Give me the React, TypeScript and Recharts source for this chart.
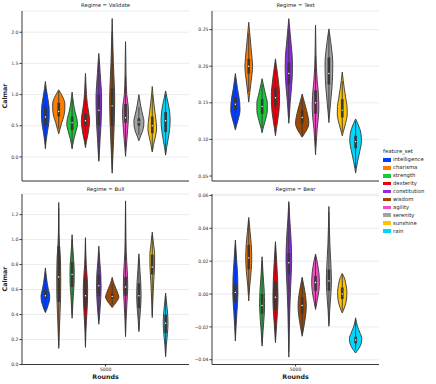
import { ComposedChart, Area, Line, XAxis, YAxis, CartesianGrid } from 'recharts';

const FEATURES = [
    'intelligence', 'charisma', 'strength', 'dexterity', 'constitution',
    'wisdom', 'agility', 'serenity', 'sunshine', 'rain',
];

const COLORS = [
    '#023eff', '#ff7c00', '#1ac938', '#e8000b', '#8b2be2',
    '#9f4800', '#f14cc1', '#a3a3a3', '#ffc400', '#00d7ff',
];

const ROUND_LABEL = '5000';

// violin outlines, one list per feature: [value, relative half-width 0..1]
const VALIDATE_SHAPES = [
    [[0.13, 0], [0.25, 0.1], [0.4, 0.3], [0.55, 0.52], [0.7, 0.58], [0.8, 0.55], [0.95, 0.35], [1.1, 0.12], [1.21, 0]],
    [[0.37, 0], [0.45, 0.2], [0.55, 0.45], [0.65, 0.75], [0.75, 0.9], [0.85, 0.92], [0.95, 0.65], [1.02, 0.3], [1.076, 0]],
    [[0.13, 0], [0.2, 0.1], [0.3, 0.3], [0.42, 0.6], [0.52, 0.8], [0.62, 0.7], [0.72, 0.45], [0.85, 0.22], [0.95, 0.1], [1.04, 0]],
    [[0.15, 0], [0.25, 0.15], [0.35, 0.35], [0.45, 0.5], [0.58, 0.62], [0.7, 0.5], [0.85, 0.28], [1.0, 0.15], [1.2, 0.06], [1.34, 0]],
    [[-0.07, 0], [0.1, 0.1], [0.3, 0.2], [0.5, 0.32], [0.75, 0.4], [0.95, 0.42], [1.15, 0.33], [1.35, 0.2], [1.55, 0.08], [1.66, 0]],
    [[-0.26, 0], [0, 0.1], [0.3, 0.22], [0.6, 0.33], [0.9, 0.38], [1.2, 0.3], [1.5, 0.18], [1.8, 0.1], [2.05, 0.04], [2.22, 0]],
    [[0.01, 0], [0.15, 0.1], [0.3, 0.22], [0.5, 0.36], [0.68, 0.45], [0.82, 0.4], [1.0, 0.18], [1.3, 0.08], [1.6, 0.04], [1.85, 0]],
    [[0.26, 0], [0.32, 0.2], [0.4, 0.5], [0.5, 0.72], [0.58, 0.75], [0.66, 0.6], [0.75, 0.4], [0.85, 0.22], [0.95, 0.08], [1.0, 0]],
    [[0.08, 0], [0.2, 0.2], [0.32, 0.45], [0.45, 0.65], [0.55, 0.6], [0.7, 0.42], [0.85, 0.25], [1.0, 0.1], [1.13, 0]],
    [[0.03, 0], [0.15, 0.15], [0.3, 0.4], [0.45, 0.6], [0.58, 0.68], [0.72, 0.6], [0.85, 0.4], [0.95, 0.2], [1.06, 0]],
];
// [whisker low, q1, median, q3, whisker high]
const VALIDATE_BOX = [
    [0.2, 0.5, 0.64, 0.8, 1.1], [0.45, 0.65, 0.73, 0.87, 1.05], [0.15, 0.43, 0.55, 0.65, 0.95],
    [0.2, 0.5, 0.58, 0.7, 1.0], [-0.05, 0.5, 0.75, 1.0, 1.55], [-0.2, 0.5, 0.82, 1.1, 2.0],
    [0.1, 0.55, 0.63, 0.85, 1.3], [0.35, 0.5, 0.56, 0.62, 0.8], [0.1, 0.38, 0.5, 0.65, 1.0],
    [0.05, 0.4, 0.58, 0.72, 1.0],
];

const TEST_SHAPES = [
    [[0.113, 0], [0.12, 0.2], [0.13, 0.5], [0.14, 0.7], [0.15, 0.65], [0.16, 0.5], [0.17, 0.3], [0.18, 0.15], [0.19, 0]],
    [[0.151, 0], [0.16, 0.1], [0.175, 0.3], [0.19, 0.5], [0.2, 0.58], [0.21, 0.5], [0.225, 0.35], [0.24, 0.2], [0.25, 0.1], [0.26, 0]],
    [[0.109, 0], [0.115, 0.15], [0.125, 0.45], [0.14, 0.78], [0.15, 0.78], [0.16, 0.55], [0.17, 0.3], [0.183, 0]],
    [[0.105, 0], [0.115, 0.15], [0.13, 0.4], [0.145, 0.58], [0.16, 0.62], [0.175, 0.5], [0.19, 0.3], [0.2, 0.15], [0.21, 0]],
    [[0.122, 0], [0.135, 0.1], [0.15, 0.2], [0.165, 0.35], [0.18, 0.48], [0.2, 0.55], [0.215, 0.5], [0.23, 0.35], [0.245, 0.2], [0.265, 0]],
    [[0.103, 0], [0.108, 0.35], [0.115, 0.8], [0.122, 1.0], [0.13, 0.9], [0.14, 0.65], [0.15, 0.35], [0.162, 0]],
    [[0.079, 0], [0.095, 0.1], [0.115, 0.25], [0.13, 0.42], [0.145, 0.5], [0.16, 0.45], [0.18, 0.25], [0.2, 0.12], [0.23, 0.05], [0.256, 0]],
    [[0.123, 0], [0.135, 0.1], [0.15, 0.25], [0.17, 0.45], [0.19, 0.56], [0.205, 0.58], [0.22, 0.45], [0.235, 0.25], [0.251, 0]],
    [[0.105, 0], [0.112, 0.2], [0.122, 0.5], [0.135, 0.75], [0.145, 0.72], [0.155, 0.55], [0.17, 0.3], [0.18, 0.15], [0.192, 0]],
    [[0.054, 0], [0.06, 0.1], [0.07, 0.3], [0.085, 0.65], [0.098, 0.88], [0.108, 0.8], [0.115, 0.6], [0.122, 0.3], [0.128, 0]],
];
const TEST_BOX = [
    [0.12, 0.14, 0.148, 0.158, 0.18], [0.165, 0.19, 0.2, 0.21, 0.245], [0.115, 0.135, 0.145, 0.155, 0.175],
    [0.12, 0.145, 0.157, 0.17, 0.2], [0.13, 0.175, 0.19, 0.205, 0.25], [0.105, 0.122, 0.13, 0.14, 0.155],
    [0.09, 0.135, 0.15, 0.167, 0.215], [0.13, 0.175, 0.19, 0.212, 0.245], [0.11, 0.13, 0.14, 0.155, 0.18],
    [0.06, 0.088, 0.097, 0.105, 0.125],
];

const BULL_SHAPES = [
    [[0.416, 0], [0.44, 0.2], [0.48, 0.45], [0.52, 0.63], [0.55, 0.65], [0.6, 0.45], [0.65, 0.28], [0.7, 0.15], [0.773, 0]],
    [[0.129, 0], [0.25, 0.08], [0.4, 0.18], [0.55, 0.28], [0.7, 0.3], [0.85, 0.25], [0.95, 0.12], [1.05, 0.05], [1.2, 0.02], [1.297, 0]],
    [[0.37, 0], [0.45, 0.08], [0.55, 0.18], [0.65, 0.3], [0.75, 0.32], [0.85, 0.22], [0.95, 0.08], [1.039, 0]],
    [[0.137, 0], [0.25, 0.06], [0.35, 0.15], [0.5, 0.3], [0.6, 0.33], [0.7, 0.25], [0.8, 0.12], [0.9, 0.05], [1.015, 0]],
    [[0.322, 0], [0.4, 0.12], [0.5, 0.26], [0.62, 0.34], [0.72, 0.3], [0.82, 0.15], [0.948, 0]],
    [[0.456, 0], [0.48, 0.35], [0.51, 0.75], [0.54, 1.0], [0.57, 0.85], [0.61, 0.55], [0.65, 0.25], [0.698, 0]],
    [[0.223, 0], [0.35, 0.08], [0.5, 0.22], [0.62, 0.33], [0.75, 0.26], [0.9, 0.1], [1.1, 0.04], [1.31, 0]],
    [[0.263, 0], [0.35, 0.1], [0.45, 0.25], [0.55, 0.33], [0.65, 0.28], [0.75, 0.16], [0.886, 0]],
    [[0.376, 0], [0.5, 0.08], [0.65, 0.2], [0.78, 0.34], [0.88, 0.36], [0.95, 0.22], [1.06, 0]],
    [[0.062, 0], [0.15, 0.1], [0.25, 0.28], [0.33, 0.36], [0.42, 0.28], [0.5, 0.13], [0.572, 0]],
];
const BULL_BOX = [
    [0.45, 0.53, 0.55, 0.6, 0.7], [0.15, 0.5, 0.7, 0.95, 1.25], [0.4, 0.62, 0.72, 0.82, 1.0],
    [0.15, 0.45, 0.55, 0.7, 1.0], [0.35, 0.55, 0.63, 0.72, 0.9], [0.48, 0.53, 0.545, 0.57, 0.65],
    [0.25, 0.55, 0.62, 0.7, 1.3], [0.28, 0.45, 0.55, 0.65, 0.85], [0.4, 0.72, 0.78, 0.88, 1.03],
    [0.08, 0.25, 0.33, 0.4, 0.55],
];

const BEAR_SHAPES = [
    [[-0.0286, 0], [-0.02, 0.1], [-0.01, 0.25], [0, 0.38], [0.01, 0.35], [0.02, 0.2], [0.0329, 0]],
    [[-0.0042, 0], [0.005, 0.15], [0.015, 0.38], [0.022, 0.45], [0.03, 0.38], [0.038, 0.2], [0.0466, 0]],
    [[-0.0317, 0], [-0.022, 0.15], [-0.012, 0.33], [-0.006, 0.38], [0.003, 0.3], [0.012, 0.15], [0.0227, 0]],
    [[-0.0296, 0], [-0.02, 0.15], [-0.01, 0.32], [-0.002, 0.38], [0.008, 0.33], [0.02, 0.18], [0.0319, 0]],
    [[-0.0384, 0], [-0.025, 0.06], [-0.01, 0.14], [0.005, 0.28], [0.02, 0.42], [0.032, 0.35], [0.045, 0.15], [0.0563, 0]],
    [[-0.0257, 0], [-0.02, 0.25], [-0.012, 0.55], [-0.007, 0.62], [-0.001, 0.5], [0.005, 0.25], [0.0101, 0]],
    [[-0.0094, 0], [-0.004, 0.25], [0.002, 0.5], [0.007, 0.58], [0.013, 0.5], [0.019, 0.28], [0.0244, 0]],
    [[-0.0196, 0], [-0.01, 0.12], [0, 0.3], [0.008, 0.38], [0.018, 0.3], [0.03, 0.15], [0.042, 0.06], [0.0533, 0]],
    [[-0.0115, 0], [-0.008, 0.35], [-0.003, 0.65], [0.001, 0.7], [0.006, 0.55], [0.01, 0.3], [0.0125, 0]],
    [[-0.0359, 0], [-0.033, 0.5], [-0.03, 0.85], [-0.027, 0.93], [-0.024, 0.7], [-0.02, 0.3], [-0.0145, 0]],
];
const BEAR_BOX = [
    [-0.025, -0.005, 0.001, 0.006, 0.03], [0.0, 0.015, 0.022, 0.03, 0.045], [-0.03, -0.012, -0.007, 0.0, 0.02],
    [-0.028, -0.01, -0.002, 0.008, 0.03], [-0.035, 0.012, 0.019, 0.025, 0.055], [-0.024, -0.012, -0.007, -0.002, 0.01],
    [-0.008, 0.002, 0.007, 0.011, 0.023], [-0.018, 0.002, 0.008, 0.015, 0.05], [-0.01, -0.003, 0.0, 0.004, 0.012],
    [-0.034, -0.03, -0.028, -0.026, -0.016],
];

const VALIDATE_TICKS = [0, 0.5, 1.0, 1.5, 2.0];
const TEST_TICKS = [0.05, 0.1, 0.15, 0.2, 0.25];
const BULL_TICKS = [0, 0.2, 0.4, 0.6, 0.8, 1.0, 1.2];
const BEAR_TICKS = [-0.04, -0.02, 0, 0.02, 0.04, 0.06];

// dodge: 10 hues share 0.8 of the single category slot
const SLOT = 0.08;
const offsetOf = (i: number) => -0.4 + SLOT / 2 + SLOT * i;

const INK = '#383838';
const FONT = '"DejaVu Sans", sans-serif';

const fmt = (digits: number) => (v: number) => {
    const s = Math.abs(v).toFixed(digits);
    return v < 0 ? `\u2212${s}` : s;
};

interface PanelProps {
    shapes: number[][][];
    box: number[][];
    domain: [number, number];
    ticks: number[];
    digits: number;
    bottom: boolean;
}

function Panel({ shapes, box, domain, ticks, digits, bottom }: PanelProps) {
    const series: React.ReactNode[] = [];
    shapes.forEach((pts, i) => {
        const c = offsetOf(i);
        const data = pts.map(([y, w]) => ({ y, x: [c - w * SLOT / 2, c + w * SLOT / 2] }));
        series.push(
            <Area
                key={`v${i}`}
                data={data}
                dataKey="x"
                type="monotone"
                fill={COLORS[i]}
                fillOpacity={1}
                stroke={INK}
                strokeWidth={0.9}
                dot={false}
                activeDot={false}
                isAnimationActive={false}
            />,
        );
    });
    box.forEach(([lo, q1, med, q3, hi], i) => {
        const c = offsetOf(i);
        series.push(
            <Line key={`w${i}`} data={[{ y: lo, x: c }, { y: hi, x: c }]} dataKey="x"
                stroke={INK} strokeWidth={0.9} dot={false} activeDot={false} isAnimationActive={false} />,
            <Line key={`b${i}`} data={[{ y: q1, x: c }, { y: q3, x: c }]} dataKey="x"
                stroke={INK} strokeWidth={2.7} dot={false} activeDot={false} isAnimationActive={false} />,
            <Line key={`m${i}`} data={[{ y: med, x: c }]} dataKey="x" stroke="none"
                dot={{ r: 0.7, fill: '#ffffff', stroke: 'none' }} activeDot={false} isAnimationActive={false} />,
        );
    });

    return (
        <ComposedChart
            width={190}
            height={bottom ? 200 : 182}
            layout="vertical"
            margin={bottom ? { top: 10, right: 1, bottom: 7.5, left: 0 } : { top: 11, right: 1, bottom: 0, left: 0 }}
        >
            <CartesianGrid vertical={false} stroke="#e6e6e6" strokeWidth={0.8} />
            <XAxis
                type="number"
                dataKey="x"
                domain={[-0.5, 0.5]}
                allowDataOverflow
                ticks={[0]}
                tickFormatter={() => ROUND_LABEL}
                tick={bottom ? { fontSize: 4.6, fill: '#333', fontFamily: FONT } : false}
                tickLine={bottom ? { stroke: INK } : false}
                tickSize={2}
                tickMargin={1}
                height={bottom ? 12 : 1}
                axisLine={{ stroke: INK, strokeWidth: 1 }}
            />
            <YAxis
                type="number"
                dataKey="y"
                domain={domain}
                reversed
                allowDataOverflow
                ticks={ticks}
                tickFormatter={fmt(digits)}
                tick={{ fontSize: 4.6, fill: '#333', fontFamily: FONT }}
                tickLine={{ stroke: INK }}
                tickSize={2.5}
                tickMargin={1}
                width={22}
                axisLine={{ stroke: INK, strokeWidth: 1 }}
            />
            {series}
        </ComposedChart>
    );
}

const textBase: React.CSSProperties = {
    position: 'absolute',
    fontFamily: FONT,
    color: '#222',
    whiteSpace: 'nowrap',
    lineHeight: 1,
};

function Title({ x, y, children }: { x: number; y: number; children: string }) {
    return (
        <div style={{ ...textBase, left: x, top: y, fontSize: 5.3, transform: 'translate(-50%, -50%)' }}>
            {children}
        </div>
    );
}

function AxisLabel({ x, y, rotate, children }: { x: number; y: number; rotate?: boolean; children: string }) {
    return (
        <div
            style={{
                ...textBase,
                left: x,
                top: y,
                fontSize: 6.3,
                fontWeight: 'bold',
                transform: `translate(-50%, -50%)${rotate ? ' rotate(-90deg)' : ''}`,
            }}
        >
            {children}
        </div>
    );
}

export default function App() {
    return (
        <div style={{ position: 'absolute', left: 0, top: 0, width: 436, height: 384, background: '#fff' }}>
            <div style={{ position: 'absolute', left: 0, top: 0 }}>
                <Panel shapes={VALIDATE_SHAPES} box={VALIDATE_BOX} domain={[-0.385, 2.34]} ticks={VALIDATE_TICKS} digits={1} bottom={false} />
            </div>
            <div style={{ position: 'absolute', left: 190, top: 0 }}>
                <Panel shapes={TEST_SHAPES} box={TEST_BOX} domain={[0.0432, 0.2754]} ticks={TEST_TICKS} digits={2} bottom={false} />
            </div>
            <div style={{ position: 'absolute', left: 0, top: 184 }}>
                <Panel shapes={BULL_SHAPES} box={BULL_BOX} domain={[0, 1.365]} ticks={BULL_TICKS} digits={1} bottom />
            </div>
            <div style={{ position: 'absolute', left: 190, top: 184 }}>
                <Panel shapes={BEAR_SHAPES} box={BEAR_BOX} domain={[-0.0429, 0.0609]} ticks={BEAR_TICKS} digits={2} bottom />
            </div>

            <Title x={105.5} y={6}>Regime = Validate</Title>
            <Title x={295.5} y={6}>Regime = Test</Title>
            <Title x={105.5} y={189.5}>Regime = Bull</Title>
            <Title x={295.5} y={189.5}>Regime = Bear</Title>

            <AxisLabel x={5} y={96} rotate>Calmar</AxisLabel>
            <AxisLabel x={5} y={279} rotate>Calmar</AxisLabel>
            <AxisLabel x={105.5} y={377}>Rounds</AxisLabel>
            <AxisLabel x={295.5} y={377}>Rounds</AxisLabel>

            <div style={{ ...textBase, left: 398, top: 152, fontSize: 5.3, transform: 'translate(-50%, -50%)' }}>
                feature_set
            </div>
            {FEATURES.map((name, i) => (
                <div key={name} style={{ position: 'absolute', left: 383, top: 160 + i * 7.9 - 2 }}>
                    <div style={{ position: 'absolute', left: 0, top: 0.2, width: 8, height: 3.6, background: COLORS[i] }} />
                    <div style={{ ...textBase, left: 10, top: -0.6, fontSize: 5.3 }}>{name}</div>
                </div>
            ))}
        </div>
    );
}
